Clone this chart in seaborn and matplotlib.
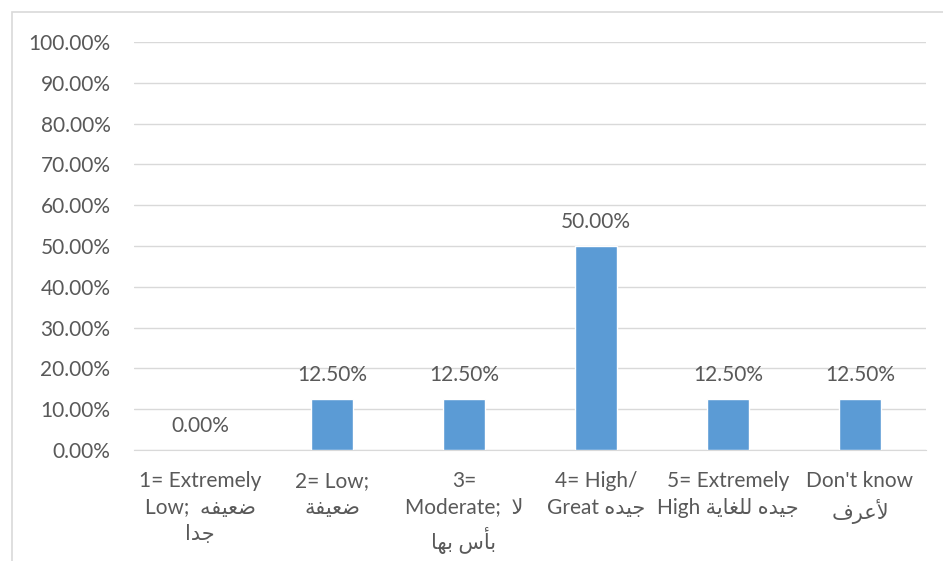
import pandas as pd
import seaborn as sns
import matplotlib.pyplot as plt
from matplotlib.patches import Rectangle
from matplotlib.ticker import PercentFormatter

# chart values
categories = ["1", "2", "3", "4", "5", "6"]
shares = [0.0, 0.125, 0.125, 0.50, 0.125, 0.125]
y_ticks = [0.0, 0.1, 0.2, 0.3, 0.4, 0.5, 0.6, 0.7, 0.8, 0.9, 1.0]

# minimal arabic shaping (matplotlib has no complex text layout)
FORMS = {
    'ا': (0xFE8D, 0xFE8E, None, None),
    'أ': (0xFE83, 0xFE84, None, None),
    'ب': (0xFE8F, 0xFE90, 0xFE91, 0xFE92),
    'ة': (0xFE93, 0xFE94, None, None),
    'ج': (0xFE9D, 0xFE9E, 0xFE9F, 0xFEA0),
    'د': (0xFEA9, 0xFEAA, None, None),
    'ر': (0xFEAD, 0xFEAE, None, None),
    'س': (0xFEB1, 0xFEB2, 0xFEB3, 0xFEB4),
    'ض': (0xFEBD, 0xFEBE, 0xFEBF, 0xFEC0),
    'ع': (0xFEC9, 0xFECA, 0xFECB, 0xFECC),
    'غ': (0xFECD, 0xFECE, 0xFECF, 0xFED0),
    'ف': (0xFED1, 0xFED2, 0xFED3, 0xFED4),
    'ل': (0xFEDD, 0xFEDE, 0xFEDF, 0xFEE0),
    'ه': (0xFEE9, 0xFEEA, 0xFEEB, 0xFEEC),
    'ي': (0xFEF1, 0xFEF2, 0xFEF3, 0xFEF4),
}
LAM_ALEF = {'ا': (0xFEFB, 0xFEFC), 'أ': (0xFEF7, 0xFEF8)}


def ar(text):
    toks = []
    i = 0
    while i < len(text):
        c = text[i]
        if c == 'ل' and i + 1 < len(text) and text[i + 1] in LAM_ALEF:
            toks.append(('LA', text[i + 1]))
            i += 2
        else:
            toks.append(c)
            i += 1

    def is_ar(t):
        return isinstance(t, tuple) or t in FORMS

    def dual(t):
        return (not isinstance(t, tuple)) and t in FORMS and FORMS[t][2] is not None

    out = []
    for k, t in enumerate(toks):
        if not is_ar(t):
            out.append(t)
            continue
        prev_c = k > 0 and dual(toks[k - 1])
        if isinstance(t, tuple):
            iso, fin = LAM_ALEF[t[1]]
            out.append(chr(fin if prev_c else iso))
            continue
        next_c = dual(t) and k + 1 < len(toks) and is_ar(toks[k + 1])
        iso, fin, ini, med = FORMS[t]
        if prev_c and next_c:
            out.append(chr(med))
        elif prev_c:
            out.append(chr(fin))
        elif next_c:
            out.append(chr(ini))
        else:
            out.append(chr(iso))
    return "".join(reversed(out))


tick_labels = [
    "1= Extremely\nLow;  " + ar("ضعيفه") + "\n" + ar("جدا"),
    "2= Low;\n" + ar("ضعيفة"),
    "3=\nModerate;  " + ar("لا") + "\n" + ar("بأس بها"),
    "4= High/\nGreat " + ar("جيده"),
    "5= Extremely\nHigh " + ar("جيده للغاية"),
    "Don't know\n" + ar("لأعرف"),
]

df = pd.DataFrame({"category": categories, "share": shares})

sns.set_style("white")
plt.rcParams['font.family'] = ['Lato', 'DejaVu Sans']
text_col = '#595959'
grid_col = '#D9D9D9'

fig = plt.figure(figsize=(9.43, 5.61), dpi=100)
ax = fig.add_axes([134 / 943, 111 / 561, 792 / 943, 408 / 561])

sns.barplot(data=df, x="category", y="share", color='#5B9BD5',
            width=0.32, saturation=1, ax=ax, zorder=3)

ax.set_ylim(0, 1)
ax.set_yticks(y_ticks)
ax.yaxis.set_major_formatter(PercentFormatter(1.0, decimals=2))
ax.set_xticks(range(len(categories)))
ax.set_xticklabels(tick_labels, linespacing=1.42)
ax.set_xlabel("")
ax.set_ylabel("")
ax.grid(axis='y', color=grid_col, lw=1, zorder=0)
ax.set_axisbelow(True)
for s in ['top', 'right', 'left']:
    ax.spines[s].set_visible(False)
ax.spines['bottom'].set_color(grid_col)
ax.tick_params(axis='y', length=0, pad=17, labelsize=15, labelcolor=text_col)
ax.tick_params(axis='x', length=0, pad=15, labelsize=15, labelcolor=text_col)

ax.bar_label(ax.containers[0], labels=[f"{v:.2%}" for v in shares],
             padding=10, fontsize=15, color=text_col)

# chart border
fig.add_artist(Rectangle((12 / 943, -0.05), 1.0, (561 - 12) / 561 + 0.05,
                         transform=fig.transFigure, fill=False,
                         ec=grid_col, lw=1.2))

fig.savefig("out.png", dpi=100)
